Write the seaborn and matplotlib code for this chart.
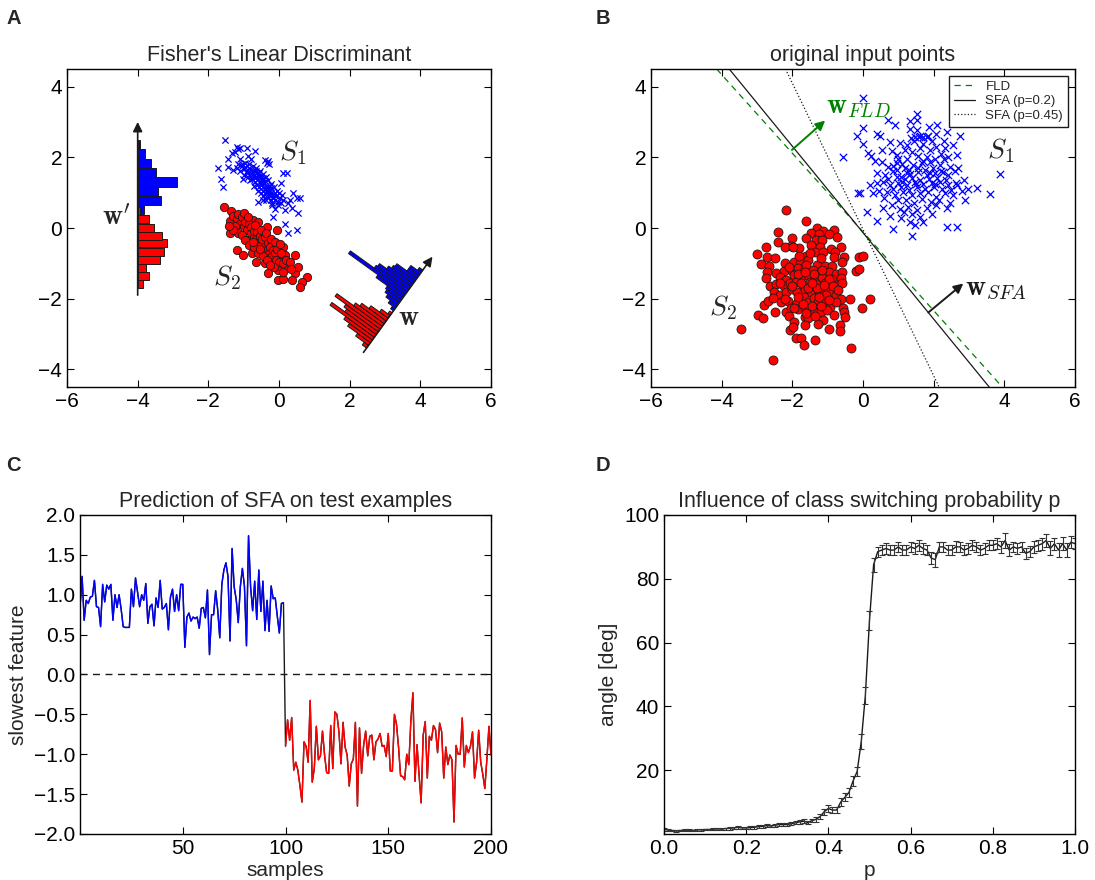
import numpy as np
import matplotlib
matplotlib.use("Agg")
import matplotlib.pyplot as plt
import matplotlib.transforms as mtransforms
import seaborn as sns

sns.set_theme(style="ticks")
plt.rcParams['font.family'] = ['Liberation Sans', 'DejaVu Sans']
plt.rcParams['mathtext.fontset'] = 'cm'
plt.rcParams.update({
    'xtick.direction': 'in', 'ytick.direction': 'in',
    'xtick.top': True, 'ytick.right': True,
    'xtick.major.size': 5, 'ytick.major.size': 5,
    'xtick.major.width': 0.8, 'ytick.major.width': 0.8,
    'xtick.labelsize': 15, 'ytick.labelsize': 15,
    'axes.titlesize': 15.5, 'axes.labelsize': 15,
    'axes.edgecolor': 'black', 'axes.linewidth': 1.0,
    'xtick.color': 'black', 'ytick.color': 'black',
})

BLUE, RED, GREEN = '#0000ff', '#ff0000', '#008000'

# ---------------- panel A data ----------------
a_blue = [(-1.53, 2.49), (-1.20, 2.30), (-1.15, 2.23), (-1.25, 2.16), (-1.34, 2.11), (-1.10, 2.27),
          (-0.92, 2.25), (-0.68, 2.19), (-0.87, 2.04), (-1.10, 1.94), (-1.72, 1.71), (-1.43, 1.73),
          (-1.29, 1.64), (-1.64, 1.38), (-1.58, 1.15), (-0.40, 1.92), (-0.30, 1.90), (-0.35, 1.85),
          (-0.27, 1.80), (0.12, 1.57), (0.22, 1.55), (0.06, 1.26), (0.40, 0.98), (0.50, 0.84),
          (0.26, 0.70), (0.17, 0.52), (0.36, 0.56), (0.55, 0.42), (-0.11, 0.53), (-0.16, 0.30),
          (0.17, 0.12), (0.26, -0.15), (0.50, -0.06), (-0.45, 0.80), (-0.60, 0.75), (0.60, 0.85),
          (0.30, 0.80), (-0.20, 0.65), (-1.05, 1.80), (-0.80, 1.95), (-1.45, 1.95),
          (-1.15, 1.80), (-1.05, 1.75), (-1.00, 1.68), (-0.95, 1.72), (-0.90, 1.62), (-0.85, 1.70),
          (-0.80, 1.55), (-0.78, 1.65), (-0.72, 1.50), (-0.70, 1.60), (-0.65, 1.45), (-0.62, 1.55),
          (-0.60, 1.38), (-0.58, 1.48), (-0.55, 1.30), (-0.52, 1.42), (-0.50, 1.22), (-0.48, 1.35),
          (-0.45, 1.15), (-0.42, 1.28), (-0.40, 1.10), (-0.38, 1.20), (-0.35, 1.02), (-0.32, 1.15),
          (-0.30, 0.95), (-0.28, 1.08), (-0.25, 0.90), (-0.22, 1.00), (-0.18, 0.85), (-0.15, 0.95),
          (-0.10, 0.80), (-0.08, 0.90), (-0.02, 0.75), (0.02, 0.85), (0.05, 0.70), (0.10, 0.78),
          (-1.10, 1.62), (-0.98, 1.50), (-0.88, 1.45), (-0.76, 1.40), (-0.68, 1.30), (-0.62, 1.22),
          (-0.56, 1.15), (-0.46, 1.05), (-0.40, 0.98), (-0.34, 0.88), (-0.24, 0.80), (-0.96, 1.85),
          (-0.85, 1.82), (-0.74, 1.75), (-0.66, 1.70), (-0.55, 1.62), (-0.46, 1.52), (-0.38, 1.45),
          (-0.30, 1.35), (-0.22, 1.25), (-0.15, 1.15), (-0.06, 1.05), (0.00, 0.98), (-0.82, 1.35),
          (-0.70, 1.20), (-0.60, 1.05), (-0.52, 0.98), (-0.44, 0.90), (-0.36, 0.78), (-0.20, 0.70),
          (-0.92, 1.56), (-0.64, 1.62), (-0.44, 1.42), (-0.26, 1.18), (-0.12, 1.00), (-0.68, 1.42),
          (-0.50, 1.28), (-0.32, 1.05), (-0.16, 0.88), (-0.78, 1.48), (-0.58, 1.55), (-0.40, 1.32),
          (-0.22, 1.12), (0.08, 0.92), (-1.20, 1.70), (-1.02, 1.40), (-0.04, 0.65)]

a_red = [(-1.56, 0.59), (-1.36, 0.48), (-1.39, 0.21), (-1.25, 0.30), (-1.06, 0.28), (-0.96, 0.23),
         (-0.73, 0.23), (-0.59, 0.18), (-0.35, 0.04), (-0.07, -0.06), (-0.49, -0.15), (-0.87, -0.06),
         (-1.15, -0.15), (-1.39, -0.15), (-1.20, -0.62), (-0.87, -0.34), (-0.63, -0.43), (-0.40, -0.39),
         (-0.21, -0.48), (0.12, -0.53), (-0.49, -0.62), (-0.77, -0.72), (-1.01, -0.77), (-0.30, -0.77),
         (-0.02, -0.81), (0.17, -0.77), (0.45, -0.77), (-0.11, -1.00), (-0.40, -1.00), (-0.30, -1.28),
         (-0.02, -1.19), (0.26, -1.09), (0.45, -1.28), (0.55, -1.09), (0.79, -1.38), (0.36, -1.47),
         (0.64, -1.52), (-0.02, -1.47), (0.12, -1.43), (0.60, -1.66),
         (-1.30, 0.35), (-1.20, 0.25), (-1.15, 0.40), (-1.10, 0.12), (-1.05, 0.30), (-1.00, 0.05),
         (-0.95, 0.18), (-0.90, -0.05), (-0.85, 0.10), (-0.80, -0.15), (-0.78, 0.02), (-0.72, -0.25),
         (-0.70, -0.08), (-0.65, -0.30), (-0.62, -0.12), (-0.58, -0.40), (-0.55, -0.22), (-0.50, -0.48),
         (-0.48, -0.30), (-0.42, -0.55), (-0.40, -0.25), (-0.35, -0.62), (-0.32, -0.42), (-0.28, -0.70),
         (-0.25, -0.55), (-0.20, -0.80), (-0.18, -0.62), (-0.12, -0.70), (-0.08, -0.90), (-0.05, -0.60),
         (0.00, -0.95), (0.05, -0.70), (0.10, -1.00), (0.20, -0.90), (0.30, -0.95), (-1.05, -0.20),
         (-0.95, -0.35), (-0.85, -0.48), (-0.70, -0.55), (-0.60, -0.70), (-0.45, -0.80), (-0.35, -0.90),
         (-1.25, 0.05), (-1.30, -0.05), (-0.98, 0.42), (-0.68, 0.08), (-0.52, -0.05), (-0.38, -0.15),
         (-0.22, -0.30), (-0.10, -0.40), (0.02, -0.45), (-0.75, -0.40), (-0.55, -0.58), (-0.15, -1.10),
         (0.10, -1.25), (-1.42, 0.05), (-0.88, 0.30), (-0.65, -0.95), (-0.25, -1.05), (0.35, -1.15)]

# histogram on the w' axis (horizontal bars starting at x = -4)
wprime_x = -4.0
wprime_span = (-1.9, 3.0)
hist_blue_bottom = [0.39, 0.65, 0.91, 1.17, 1.43, 1.70, 1.96, 2.23]
hist_blue_width = [0.17, 0.66, 0.57, 1.11, 0.52, 0.38, 0.20, 0.075]
hist_blue_height = 0.263
hist_red_bottom = [-1.69, -1.46, -1.24, -1.01, -0.78, -0.55, -0.33, -0.10, 0.13, 0.36]
hist_red_width = [0.14, 0.32, 0.23, 0.62, 0.74, 0.83, 0.68, 0.46, 0.31, 0.06]
hist_red_height = 0.2275

# histogram of the projections onto w (drawn in a rotated frame)
w_origin = (2.39, -3.52)
w_angle = 54.2
w_length = 3.34
proj_bin = 0.095
proj_red_left = [0.15, 0.245, 0.34, 0.435, 0.53, 0.625, 0.72, 0.815, 0.91, 1.005, 1.10, 1.195, 1.29]
proj_red_len = [0.15, 0.45, 0.80, 1.00, 1.55, 1.10, 1.20, 1.58, 1.00, 0.85, 0.60, 0.30, 0.08]
proj_blue_left = [1.45, 1.545, 1.64, 1.735, 1.83, 1.925, 2.02, 2.115, 2.21, 2.305, 2.40, 2.495,
                  2.59, 2.685, 2.78]
proj_blue_len = [0.10, 0.25, 0.40, 0.50, 0.55, 0.95, 1.98, 1.15, 1.10, 0.85, 0.75, 0.70, 0.35, 0.35, 0.12]

# ---------------- panel B data ----------------
b_blue = [(0.01, 3.69), (0.72, 3.06), (0.91, 2.92), (1.33, 3.03), (1.54, 3.22), (1.54, 3.06),
          (1.33, 2.80), (1.54, 2.77), (1.87, 2.87), (2.10, 2.92), (2.08, 2.66), (2.37, 2.73),
          (1.47, 2.57), (1.58, 2.57), (1.70, 2.57), (1.82, 2.57), (2.74, 2.59), (0.01, 2.82),
          (-0.18, 2.61), (0.01, 2.37), (0.39, 2.66), (0.48, 2.61), (-0.56, 2.00), (0.15, 2.11),
          (0.24, 2.04), (0.76, 2.44), (0.81, 2.19), (0.95, 2.07), (1.24, 2.35), (1.38, 2.16),
          (1.61, 2.26), (1.90, 2.21), (2.08, 2.30), (2.32, 2.26), (2.41, 2.02), (2.65, 2.07),
          (0.53, 1.88), (0.72, 1.74), (0.95, 1.83), (1.19, 1.69), (1.42, 1.78), (1.66, 1.83),
          (1.90, 1.88), (2.18, 1.78), (2.46, 1.74), (0.39, 1.55), (0.62, 1.50), (0.86, 1.60),
          (1.09, 1.45), (1.33, 1.52), (1.57, 1.58), (1.80, 1.50), (2.04, 1.55), (2.27, 1.58),
          (2.60, 1.60), (0.20, 1.22), (0.39, 1.27), (0.58, 1.31), (0.76, 1.22), (1.00, 1.27),
          (1.24, 1.22), (1.47, 1.31), (1.71, 1.24), (1.94, 1.27), (2.18, 1.31), (2.41, 1.22),
          (2.65, 1.22), (-0.13, 0.98), (-0.09, 0.98), (0.29, 0.98), (0.67, 1.03), (0.90, 0.94),
          (1.14, 1.03), (1.38, 0.94), (1.61, 0.98), (1.85, 1.03), (2.08, 0.89), (2.32, 0.98),
          (2.56, 0.94), (2.79, 1.05), (2.98, 1.10), (3.22, 1.14), (3.59, 0.96), (3.89, 1.52),
          (0.10, 0.46), (0.39, 0.20), (0.58, 0.58), (0.81, 0.65), (1.05, 0.54), (1.28, 0.60),
          (1.52, 0.51), (1.80, 0.56), (2.08, 0.65), (2.37, 0.56), (0.76, 0.34), (1.09, 0.29),
          (1.33, 0.18), (1.47, 0.09), (1.71, 0.16), (2.37, 0.04), (2.65, 0.04), (1.38, -0.22),
          (0.86, -0.03), (2.89, 0.79), (2.63, 1.28),
          (1.05, 2.40), (1.20, 2.20), (1.45, 2.45), (1.70, 2.38), (1.95, 2.45), (2.20, 2.10),
          (1.00, 1.95), (1.25, 1.95), (1.55, 2.05), (1.80, 2.00), (2.05, 1.95), (2.30, 1.95),
          (0.85, 1.75), (1.10, 1.80), (1.30, 1.65), (1.55, 1.70), (1.75, 1.65), (1.98, 1.70),
          (2.20, 1.62), (2.40, 1.50), (0.70, 1.40), (0.95, 1.45), (1.18, 1.38), (1.40, 1.42),
          (1.62, 1.35), (1.88, 1.40), (2.10, 1.42), (2.35, 1.35), (0.85, 1.10), (1.08, 1.15),
          (1.30, 1.08), (1.52, 1.15), (1.75, 1.10), (2.00, 1.15), (2.25, 1.10), (2.50, 1.08),
          (1.00, 0.80), (1.22, 0.78), (1.45, 0.72), (1.68, 0.82), (1.92, 0.75), (2.15, 0.80),
          (2.45, 0.70), (1.15, 0.45), (1.40, 0.40), (1.95, 0.40), (1.60, 0.30), (2.70, 1.70),
          (2.85, 1.35), (0.55, 2.20), (0.35, 1.90), (0.45, 1.05), (1.60, 2.60), (1.35, 2.55),
          (1.85, 2.60), (2.55, 2.35), (0.60, 0.85), (1.25, 1.55), (1.50, 1.25), (1.70, 1.90),
          (1.90, 1.55), (2.05, 1.25), (1.10, 1.30), (0.95, 1.65), (2.30, 2.45)]

b_red = [(-2.18, 0.50), (-1.61, 0.21), (-2.41, -0.11), (-1.30, 0.01), (-1.13, -0.08), (-0.83, -0.05),
         (-1.46, -0.15), (-1.24, -0.18), (-0.97, -0.18), (-2.40, -0.39), (-2.00, -0.29), (-1.62, -0.27),
         (-1.32, -0.34), (-1.15, -0.33), (-0.73, -0.25), (-2.05, -0.50), (-1.82, -0.57), (-2.21, -0.55),
         (-1.46, -0.48), (-1.22, -0.55), (-0.90, -0.58), (-0.61, -0.55), (-2.74, -0.55), (-1.98, -0.55),
         (-3.01, -0.74), (-2.73, -0.81), (-2.50, -0.84), (-1.62, -0.79), (-1.36, -0.69), (-1.13, -0.69),
         (-0.78, -0.69), (-0.83, -0.83), (-0.54, -0.83), (-0.10, -0.83), (0.00, -0.79), (-2.90, -1.03),
         (-2.67, -1.07), (-2.21, -1.00), (-1.95, -0.95), (-1.79, -0.98), (-1.55, -0.90), (-1.29, -1.05),
         (-1.08, -1.07), (-0.87, -1.07), (-0.58, -0.95), (-0.21, -1.21), (-0.12, -1.15), (-2.73, -1.24),
         (-2.45, -1.28), (-2.23, -1.22), (-2.02, -1.22), (-1.85, -1.12), (-1.65, -1.12), (-1.41, -1.19),
         (-1.20, -1.22), (-0.96, -1.25), (-0.75, -1.30), (-0.58, -1.25), (-2.75, -1.42), (-2.34, -1.38),
         (-2.17, -1.47), (-1.96, -1.33), (-1.74, -1.38), (-1.55, -1.33), (-1.34, -1.42), (-1.15, -1.38),
         (-0.89, -1.44), (-0.61, -1.42), (-2.64, -1.63), (-2.47, -1.59), (-2.23, -1.63), (-2.07, -1.57),
         (-1.90, -1.54), (-1.69, -1.61), (-1.51, -1.54), (-1.32, -1.59), (-1.08, -1.57), (-1.01, -1.73),
         (-0.77, -1.61), (-0.59, -1.57), (-2.81, -2.18), (-2.68, -2.07), (-2.51, -1.80), (-2.35, -1.90),
         (-2.17, -1.80), (-2.02, -1.72), (-1.86, -1.80), (-1.65, -1.75), (-1.46, -1.80), (-1.24, -1.80),
         (-1.13, -1.90), (-0.89, -1.85), (-0.75, -1.90), (-0.61, -2.02), (-0.37, -2.01), (-2.54, -1.99),
         (-2.31, -2.08), (-2.12, -2.07), (-1.88, -2.13), (-1.68, -1.94), (-1.55, -2.08), (-1.39, -1.99),
         (-1.27, -2.08), (-1.05, -2.07), (-0.94, -2.23), (-0.77, -2.08), (-0.56, -2.27), (-0.53, -2.39),
         (-2.98, -2.45), (-2.84, -2.54), (-2.50, -2.37), (-2.19, -2.37), (-2.05, -2.27), (-1.84, -2.29),
         (-1.65, -2.27), (-1.52, -2.32), (-1.41, -2.32), (-1.20, -2.37), (-1.03, -2.32), (-0.83, -2.46),
         (-0.52, -2.51), (-2.09, -2.48), (-1.65, -2.51), (-1.55, -2.54), (-1.13, -2.60), (-0.66, -2.74),
         (-1.96, -2.67), (-1.65, -2.74), (-1.27, -2.72), (-0.96, -2.86), (-0.66, -2.91), (-2.07, -2.88),
         (-1.98, -2.79), (-1.90, -3.12), (-1.75, -3.12), (-1.66, -3.31), (-1.35, -3.17), (-3.44, -2.86),
         (-2.54, -3.73), (-0.33, -3.39), (0.20, -2.02), (-0.02, -2.27),
         (-2.10, -1.10), (-1.85, -1.30), (-1.60, -1.05), (-1.40, -1.30), (-1.15, -1.20), (-0.95, -1.45),
         (-2.00, -1.65), (-1.75, -1.55), (-1.55, -1.70), (-1.30, -1.70), (-1.05, -1.90), (-0.85, -1.65),
         (-2.20, -2.00), (-1.95, -2.25), (-1.70, -2.15), (-1.45, -2.20), (-1.20, -2.20), (-0.95, -2.05),
         (-1.80, -0.80), (-1.50, -0.70), (-1.20, -0.85), (-1.60, -2.40), (-1.35, -2.50), (-1.85, -1.95),
         (-1.25, -1.95), (-1.65, -1.25), (-1.45, -1.55), (-1.10, -1.60), (-2.35, -1.55), (-0.70, -1.75)]

# separating lines: (label, slope, intercept, style)
bound_labels = ['FLD', 'SFA (p=0.2)', 'SFA (p=0.45)']
bound_slope = [-1.113, -1.223, -2.07]
bound_icpt = [-0.11, -0.13, -0.04]
w_fld = ((-2.01, 2.21), (-1.07, 3.04))
w_sfa = ((1.85, -2.39), (2.84, -1.57))

# ---------------- panel C data ----------------
c_blue = [0.85, 1.23, 0.68, 0.93, 0.89, 0.97, 0.98, 1.18, 0.85, 0.84,
          0.60, 1.13, 0.91, 1.12, 1.07, 1.13, 0.68, 1.00, 0.84, 1.00,
          0.82, 0.60, 0.59, 0.59, 0.59, 1.07, 0.85, 1.21, 1.03, 0.85,
          1.00, 0.93, 1.14, 0.64, 0.85, 0.88, 0.61, 0.96, 0.84, 1.18,
          0.82, 0.84, 0.89, 0.56, 0.97, 1.07, 0.79, 1.00, 0.80, 1.13,
          1.13, 0.34, 0.72, 0.77, 0.67, 0.72, 0.70, 0.72, 0.58, 0.83,
          0.84, 0.71, 1.06, 0.25, 0.75, 0.75, 1.05, 0.81, 0.46, 1.13,
          1.31, 1.40, 1.23, 0.42, 1.58, 1.10, 0.94, 0.65, 1.10, 1.33,
          1.11, 0.36, 1.74, 1.10, 0.80, 1.17, 0.69, 1.31, 0.79, 1.17,
          0.55, 0.93, 0.54, 1.11, 0.95, 0.96, 0.73, 0.52, 0.89, 0.90]
c_red = [-0.90, -0.57, -0.825, -0.54, -1.20, -1.10, -1.20, -1.39, -1.60, -0.845,
         -0.90, -1.10, -0.325, -1.35, -1.18, -0.65, -1.07, -1.02, -0.71, -1.01,
         -1.23, -1.24, -0.64, -1.18, -0.47, -0.50, -0.72, -1.12, -0.60, -0.91,
         -1.01, -1.40, -1.12, -1.06, -0.60, -1.65, -0.67, -1.24, -0.89, -0.71,
         -1.02, -0.775, -0.76, -1.07, -0.845, -0.81, -0.74, -0.90, -0.89, -1.03,
         -0.74, -1.21, -1.21, -0.50, -0.625, -0.91, -1.27, -1.28, -1.32, -1.00,
         -1.13, -0.58, -0.23, -1.34, -0.88, -1.26, -1.61, -0.76, -0.59, -1.30,
         -0.775, -0.825, -0.64, -0.69, -0.98, -0.61, -0.72, -1.30, -0.91, -1.13,
         -1.01, -1.07, -1.85, -0.89, -1.00, -1.00, -0.545, -1.16, -0.89, -0.98,
         -0.90, -0.72, -1.30, -1.10, -0.70, -1.10, -1.25, -1.43, -1.06, -0.65,
         -1.01]

# ---------------- panel D data ----------------
p_vals = np.round(np.arange(101) * 0.01, 2)
angle = [1.5, 1.2, 1.1, 1.0, 1.1, 1.2, 1.2, 1.1, 1.3, 1.3,
         1.4, 1.4, 1.5, 1.6, 1.5, 1.7, 1.8, 1.9, 2.1, 1.9,
         1.9, 2.0, 2.1, 2.3, 2.4, 2.6, 2.5, 2.7, 3.0, 2.9,
         3.0, 3.2, 3.5, 3.8, 4.0, 3.6, 4.2, 4.6, 5.5, 7.0,
         8.0, 7.5, 7.5, 10.0, 11.5, 13.0, 16.6, 19.6, 29.0, 43.5,
         67.0, 84.4, 88.5, 89.0, 89.5, 89.0, 89.0, 90.0, 89.0, 89.0,
         90.0, 89.5, 90.5, 89.5, 89.0, 86.5, 86.0, 90.0, 90.0, 89.0,
         89.0, 90.0, 90.0, 89.0, 89.5, 90.5, 90.0, 89.0, 89.5, 90.5,
         90.5, 91.0, 90.0, 92.0, 89.0, 90.0, 89.5, 90.0, 88.0, 88.5,
         90.0, 90.5, 91.0, 92.0, 89.5, 91.0, 89.0, 91.0, 89.0, 91.5, 91.0]
angle_err = [0.5, 0.3, 0.3, 0.3, 0.3, 0.3, 0.3, 0.3, 0.3, 0.3,
             0.3, 0.3, 0.3, 0.3, 0.3, 0.3, 0.4, 0.4, 0.4, 0.4,
             0.4, 0.4, 0.4, 0.4, 0.4, 0.4, 0.4, 0.5, 0.5, 0.5,
             0.5, 0.5, 0.5, 0.6, 0.6, 0.5, 0.6, 0.7, 0.8, 0.9,
             1.0, 0.8, 0.9, 1.2, 1.3, 1.5, 1.5, 1.5, 2.3, 2.6,
             3.0, 2.2, 1.6, 1.5, 1.6, 1.5, 1.7, 1.6, 1.5, 1.6,
             1.5, 1.6, 1.7, 1.6, 1.5, 2.0, 2.2, 1.6, 1.5, 1.6,
             1.6, 1.7, 1.5, 1.6, 1.7, 1.5, 1.6, 1.7, 1.6, 1.5,
             1.6, 1.7, 1.8, 2.4, 1.8, 1.6, 1.7, 1.6, 1.8, 1.7,
             1.9, 1.8, 1.9, 2.0, 2.2, 1.9, 2.1, 2.0, 2.2, 2.0, 1.8]

a_blue = np.array(a_blue)
a_red = np.array(a_red)
b_blue = np.array(b_blue)
b_red = np.array(b_red)

fig = plt.figure(figsize=(10.95, 8.8), dpi=100)
math_kw = dict(fontsize=20, ha='left', va='baseline')
arrow_kw = dict(arrowstyle='-|>', shrinkA=0, shrinkB=0, mutation_scale=14)

# ===== A =====
axA = fig.add_axes([0.0612, 0.5602, 0.3872, 0.3614])
sns.scatterplot(x=a_blue[:, 0], y=a_blue[:, 1], marker='x', color=BLUE, s=20, linewidth=0.9, ax=axA)
sns.scatterplot(x=a_red[:, 0], y=a_red[:, 1], marker='o', color=RED, edgecolor='k', s=36,
                linewidth=0.6, ax=axA)
axA.barh(hist_blue_bottom, hist_blue_width, height=hist_blue_height, left=wprime_x, align='edge',
         color=BLUE, edgecolor='k', lw=0.7)
axA.barh(hist_red_bottom, hist_red_width, height=hist_red_height, left=wprime_x, align='edge',
         color=RED, edgecolor='k', lw=0.7)
axA.annotate('', xy=(wprime_x, wprime_span[1]), xytext=(wprime_x, wprime_span[0]),
             arrowprops=dict(color='k', lw=1.2, **arrow_kw))

rot = mtransforms.Affine2D().rotate_deg(w_angle).translate(*w_origin) + axA.transData
axA.bar(proj_red_left, proj_red_len, width=proj_bin, align='edge', color=RED, edgecolor='k',
        lw=0.7, transform=rot)
axA.bar(proj_blue_left, proj_blue_len, width=proj_bin, align='edge', color=BLUE, edgecolor='k',
        lw=0.7, transform=rot)
w_tip = (w_origin[0] + w_length * np.cos(np.radians(w_angle)),
         w_origin[1] + w_length * np.sin(np.radians(w_angle)))
axA.annotate('', xy=w_tip, xytext=w_origin, arrowprops=dict(color='k', lw=1.2, **arrow_kw))

axA.text(-5.0, 0.08, r"$\mathbf{w}'$", **math_kw)
axA.text(3.36, -2.75, r"$\mathbf{w}$", **math_kw)
axA.text(0.0, 1.92, r"$S_1$", **math_kw)
axA.text(-1.88, -1.61, r"$S_2$", **math_kw)
axA.set_title("Fisher's Linear Discriminant", pad=6)

# ===== B =====
axB = fig.add_axes([0.5945, 0.5602, 0.3872, 0.3614])
sns.scatterplot(x=b_red[:, 0], y=b_red[:, 1], marker='o', color=RED, edgecolor='k', s=42,
                linewidth=0.6, ax=axB)
sns.scatterplot(x=b_blue[:, 0], y=b_blue[:, 1], marker='x', color=BLUE, s=28, linewidth=0.9, ax=axB)
styles = [dict(color=GREEN, ls=(0, (5, 4))), dict(color='k', ls='-'), dict(color='k', ls=':')]
for lab, m, b, st in zip(bound_labels, bound_slope, bound_icpt, styles):
    axB.axline((0, b), slope=m, lw=0.9, label=lab, **st)
axB.annotate('', xy=w_fld[1], xytext=w_fld[0], arrowprops=dict(color=GREEN, lw=1.4, **arrow_kw))
axB.annotate('', xy=w_sfa[1], xytext=w_sfa[0], arrowprops=dict(color='k', lw=1.4, **arrow_kw))
axB.text(-1.05, 3.25, r"$\mathbf{w}_{FLD}$", color=GREEN, **math_kw)
axB.text(2.88, -1.90, r"$\mathbf{w}_{SFA}$", color='k', **math_kw)
axB.text(3.5, 1.97, r"$S_1$", **math_kw)
axB.text(-4.35, -2.46, r"$S_2$", **math_kw)
leg = axB.legend(loc='upper right', fontsize=9.5, frameon=True, fancybox=False, edgecolor='k',
                 framealpha=1, handlelength=1.6, borderaxespad=0.5, labelspacing=0.15)
leg.get_frame().set_linewidth(1.0)
axB.set_title("original input points", pad=6)

for ax in (axA, axB):
    ax.set_xlim(-6, 6)
    ax.set_ylim(-4.5, 4.5)
    ax.set_xticks(range(-6, 7, 2))
    ax.set_yticks(range(-4, 5, 2))

# ===== C =====
axC = fig.add_axes([0.0731, 0.0523, 0.3753, 0.3625])
n_b = len(c_blue)
x_all = np.arange(n_b + len(c_red))
sns.lineplot(x=x_all, y=np.concatenate([c_blue, c_red]), color='k', lw=1, ax=axC)
sns.lineplot(x=x_all[:n_b], y=c_blue, color=BLUE, lw=1, ax=axC)
sns.lineplot(x=x_all[n_b:], y=c_red, color=RED, lw=1, ax=axC)
axC.axhline(0, color='k', ls=(0, (5, 4)), lw=1)
axC.set_xlim(0, 200)
axC.set_ylim(-2, 2)
axC.set_xticks([50, 100, 150, 200])
axC.set_yticks(np.arange(-2, 2.01, 0.5))
axC.set_xlabel("samples", labelpad=2)
axC.set_ylabel("slowest feature")
axC.set_title("Prediction of SFA on test examples", pad=6)

# ===== D =====
axD = fig.add_axes([0.6064, 0.0523, 0.3753, 0.3625])
sns.lineplot(x=p_vals, y=angle, color='k', lw=1, ax=axD)
axD.errorbar(p_vals, angle, yerr=angle_err, fmt='none', ecolor='0.2', elinewidth=0.8,
             capsize=2.5, capthick=0.8)
axD.set_xlim(0, 1)
axD.set_ylim(0, 100)
axD.set_xticks(np.arange(0, 1.01, 0.2))
axD.set_yticks([20, 40, 60, 80, 100])
axD.set_xlabel("p", labelpad=2)
axD.set_ylabel("angle [deg]")
axD.set_title("Influence of class switching probability p", pad=6)

for lab, (fx, fy) in zip("ABCD", [(0.006, 0.99), (0.544, 0.99), (0.006, 0.482), (0.544, 0.482)]):
    fig.text(fx, fy, lab, fontsize=14.5, fontweight='bold', ha='left', va='top')

fig.savefig("out.png", dpi=100)
